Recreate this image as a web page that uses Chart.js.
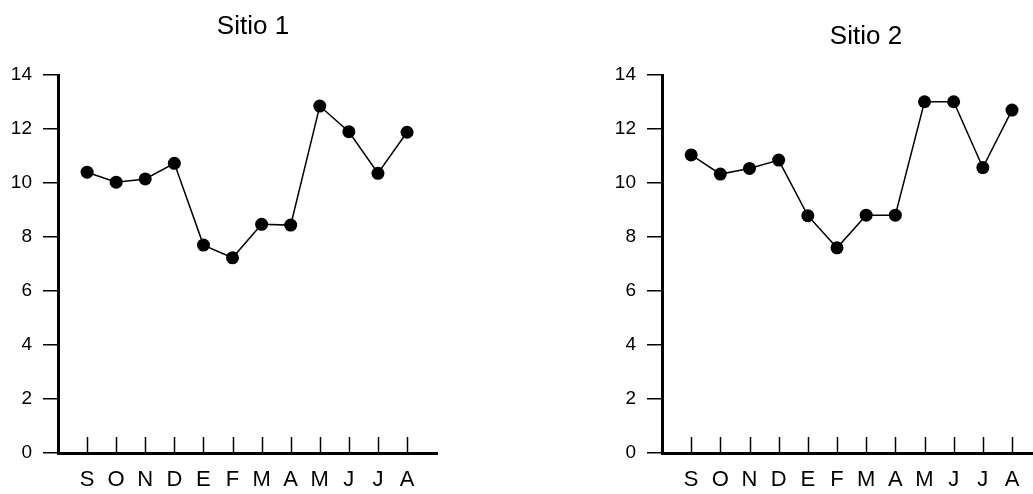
<!DOCTYPE html>
<html>
<head>
<meta charset="utf-8">
<script src="https://cdn.jsdelivr.net/npm/chart.js@4"></script>
<style>
  body { margin: 0; background: #fff; overflow: hidden; width: 1033px; height: 494px; position: relative; }
  canvas { position: absolute; top: 0; }
  #sitio1 { left: 0; }
  #sitio2 { left: 520px; }
</style>
</head>
<body>
<canvas id="sitio1" width="506" height="494"></canvas>
<canvas id="sitio2" width="692" height="494"></canvas>
<script>
const months = ["S", "O", "N", "D", "E", "F", "M", "A", "M", "J", "J", "A"];
const sitio1 = [10.4, 10.03, 10.15, 10.73, 7.7, 7.23, 8.47, 8.44, 12.85, 11.9, 10.36, 11.88];
const sitio2 = [11.04, 10.33, 10.54, 10.85, 8.79, 7.6, 8.81, 8.81, 13.01, 13.01, 10.57, 12.7];
const yTicks = [0, 2, 4, 6, 8, 10, 12, 14];

const FONT = "Arial, 'Liberation Sans', sans-serif";

// small tick marks pointing up from the x axis
const innerTicks = {
  id: "innerTicks",
  afterDraw(chart) {
    const ctx = chart.ctx;
    const xs = chart.scales.x;
    const base = chart.chartArea.bottom;
    ctx.save();
    ctx.strokeStyle = "#000";
    ctx.lineWidth = 1.5;
    xs.ticks.forEach((t) => {
      const px = Math.round(xs.getPixelForValue(t.value)) + 0.5;
      ctx.beginPath();
      ctx.moveTo(px, base);
      ctx.lineTo(px, base - 16);
      ctx.stroke();
    });
    ctx.restore();
  },
};

function makeChart(id, title, values, cfg) {
  const ctx = document.getElementById(id).getContext("2d");
  return new Chart(ctx, {
    type: "line",
    data: {
      datasets: [
        {
          data: values.map((v, i) => ({ x: i, y: v })),
          borderColor: "#000",
          borderWidth: 1.5,
          pointRadius: 6.5,
          pointHoverRadius: 6.5,
          pointBackgroundColor: "#000",
          pointBorderColor: "#000",
          pointBorderWidth: 0,
          tension: 0,
        },
      ],
    },
    plugins: [innerTicks],
    options: {
      responsive: false,
      animation: false,
      events: [],
      layout: { padding: 0 },
      plugins: {
        legend: { display: false },
        tooltip: { enabled: false },
        title: {
          display: true,
          text: title,
          color: "#000",
          font: { family: FONT, size: 26, weight: "normal" },
          padding: { top: cfg.titleTop, bottom: cfg.titleBottom },
        },
      },
      scales: {
        x: {
          type: "linear",
          min: -1,
          max: cfg.xMax,
          afterBuildTicks: (s) => {
            s.ticks = months.map((m, i) => ({ value: i }));
          },
          afterFit: (s) => {
            s.height = 41;
          },
          grid: { drawOnChartArea: false, drawTicks: false },
          border: { display: true, color: "#000", width: 3 },
          ticks: {
            color: "#000",
            font: { family: FONT, size: 22 },
            padding: 14,
            maxRotation: 0,
            autoSkip: false,
            callback: (v) => months[v],
          },
        },
        y: {
          min: 0,
          max: 14,
          afterBuildTicks: (s) => {
            s.ticks = yTicks.map((v) => ({ value: v }));
          },
          afterFit: (s) => {
            s.width = cfg.axisX;
          },
          grid: { drawOnChartArea: false, drawTicks: true, tickLength: 15, color: "#000", lineWidth: 1.5 },
          border: { display: true, color: "#000", width: 3 },
          ticks: {
            color: "#000",
            font: { family: FONT, size: 19 },
            padding: 11,
          },
        },
        // empty right-hand box that only reserves space, so the title stays centred on the canvas
        spacer: {
          position: "right",
          display: true,
          afterFit: (s) => {
            s.width = cfg.padRight;
          },
          grid: { display: false, drawTicks: false },
          border: { display: false },
          ticks: { display: false },
        },
      },
    },
  });
}

makeChart("sitio1", "Sitio 1", sitio1, { axisX: 58, padRight: 69, xMax: 12.03, titleTop: 11, titleBottom: 32.8 });
makeChart("sitio2", "Sitio 2", sitio2, { axisX: 142, padRight: 172, xMax: 11.96, titleTop: 21, titleBottom: 22.8 });
</script>
</body>
</html>
